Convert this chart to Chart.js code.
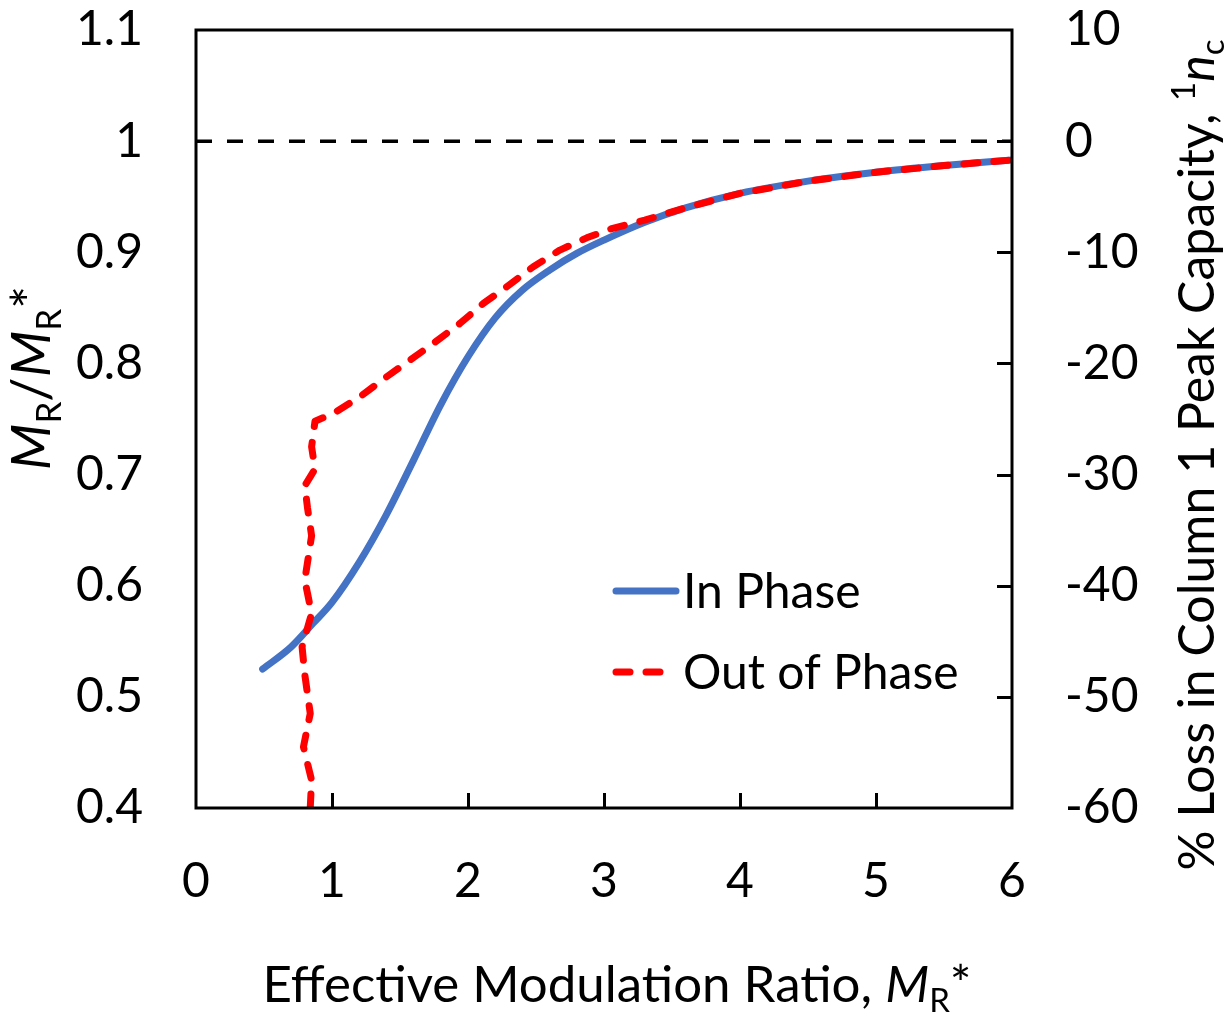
<!DOCTYPE html>
<html>
<head>
<meta charset="utf-8">
<script src="https://cdn.jsdelivr.net/npm/chart.js@4.4.1/dist/chart.umd.min.js"></script>
<style>
  html, body { margin: 0; padding: 0; background: #fff; }
  #wrap { width: 1226px; height: 1022px; }
</style>
</head>
<body>
<div id="wrap"><canvas id="c" width="1226" height="1022"></canvas></div>
<script>
// values
const inPhaseX = [0.49, 0.70, 0.86, 1.0, 1.2, 1.4, 1.6, 1.8, 2.0, 2.2, 2.4, 2.6, 2.8, 3.0, 3.3, 3.6, 4.0, 4.5, 5.0, 5.5, 6.0];
const inPhaseY = [0.525, 0.545, 0.566, 0.585, 0.621, 0.664, 0.713, 0.763, 0.806, 0.841, 0.866, 0.884, 0.899, 0.911, 0.927, 0.940, 0.953, 0.964, 0.972, 0.978, 0.983];

const outPhaseX = [0.84, 0.85, 0.79, 0.84, 0.80, 0.78, 0.85, 0.80, 0.85, 0.82, 0.80, 0.875, 0.85, 0.875, 1.01, 1.206, 1.402, 1.574, 1.745, 1.941, 2.113, 2.285, 2.48, 2.676, 2.873, 3.05, 3.3, 3.6, 4.0, 4.5, 5.0, 5.5, 6.0];
const outPhaseY = [0.40, 0.425, 0.455, 0.485, 0.52, 0.545, 0.575, 0.605, 0.645, 0.67, 0.69, 0.705, 0.725, 0.748, 0.755, 0.770, 0.788, 0.803, 0.818, 0.836, 0.854, 0.869, 0.887, 0.902, 0.913, 0.921, 0.929, 0.940, 0.953, 0.964, 0.972, 0.978, 0.983];

const refX = [0, 6];
const refY = [1, 1];

const xTickVals = [1, 2, 3, 4, 5];          // inward tick marks on the bottom
const rightTickVals = [-50, -40, -30, -20, -10, 0];

const FONT = 'Lato';
const BLUE = '#4472C4';
const RED = '#FF0000';

function pts(xs, ys) {
  return xs.map((x, i) => ({ x: x, y: ys[i] }));
}

function drawRich(ctx, parts, size, cx, cy, rot) {
  ctx.save();
  ctx.translate(cx, cy);
  ctx.rotate(rot);
  ctx.textAlign = 'left';
  ctx.textBaseline = 'alphabetic';
  ctx.fillStyle = '#000';
  const fontOf = p => (p.italic ? 'italic ' : '') + Math.round((p.sub || p.sup) ? size * 0.65 : size) + 'px ' + FONT;
  let total = 0;
  parts.forEach(p => { ctx.font = fontOf(p); p.w = ctx.measureText(p.t).width; total += p.w; });
  let x = -total / 2;
  parts.forEach(p => {
    ctx.font = fontOf(p);
    const dy = p.sub ? size * 0.2 : (p.sup ? -size * 0.38 : 0);
    ctx.fillText(p.t, x, dy);
    x += p.w;
  });
  ctx.restore();
}

const decor = {
  id: 'decor',
  afterDatasetsDraw(chart) {
    const { ctx, chartArea: a, scales } = chart;
    ctx.save();
    ctx.strokeStyle = '#000';
    ctx.lineWidth = 3;
    ctx.setLineDash([]);
    ctx.strokeRect(a.left, a.top, a.right - a.left, a.bottom - a.top);
    ctx.beginPath();
    xTickVals.forEach(v => {
      const px = Math.round(scales.x.getPixelForValue(v)) + 0.5;
      ctx.moveTo(px, a.bottom);
      ctx.lineTo(px, a.bottom - 15);
    });
    rightTickVals.forEach(v => {
      const py = Math.round(scales.y2.getPixelForValue(v)) + 0.5;
      ctx.moveTo(a.right, py);
      ctx.lineTo(a.right - 15, py);
    });
    ctx.stroke();
    ctx.restore();
  },
  afterDraw(chart) {
    const ctx = chart.ctx;
    // legend
    ctx.save();
    ctx.lineCap = 'round';
    ctx.lineWidth = 7;
    ctx.strokeStyle = BLUE;
    ctx.beginPath(); ctx.moveTo(616, 591); ctx.lineTo(676, 591); ctx.stroke();
    ctx.strokeStyle = RED;
    ctx.setLineDash([14, 16]);
    ctx.beginPath(); ctx.moveTo(616, 672); ctx.lineTo(662, 672); ctx.stroke();
    ctx.setLineDash([]);
    ctx.fillStyle = '#000';
    ctx.font = '48px ' + FONT;
    ctx.textAlign = 'left';
    ctx.textBaseline = 'middle';
    ctx.fillText('In Phase', 683, 593);
    ctx.fillText('Out of Phase', 683, 674);
    ctx.restore();

    // axis titles
    drawRich(ctx, [
      { t: 'Effective Modulation Ratio, ' },
      { t: 'M', italic: true },
      { t: 'R', sub: true },
      { t: '*' }
    ], 51, 617, 1002, 0);
    drawRich(ctx, [
      { t: 'M', italic: true },
      { t: 'R', sub: true },
      { t: '/' },
      { t: 'M', italic: true },
      { t: 'R', sub: true },
      { t: '*' }
    ], 54, 50, 378, -Math.PI / 2);
    drawRich(ctx, [
      { t: '% Loss in Column 1 Peak Capacity, ' },
      { t: '1', sup: true },
      { t: 'n', italic: true },
      { t: 'c', sub: true }
    ], 50, 1214, 455, -Math.PI / 2);
  }
};

const tickFont = { family: FONT, size: 48 };

function fitV(w) {
  return s => { s.width = w; s.paddingTop = 0; s.paddingBottom = 0; };
}

new Chart(document.getElementById('c'), {
  type: 'line',
  data: {
    datasets: [
      {
        label: 'ref',
        data: pts(refX, refY),
        borderColor: '#000',
        borderWidth: 3.5,
        borderDash: [16, 15],
        pointRadius: 0,
        tension: 0,
        order: 3
      },
      {
        label: 'In Phase',
        data: pts(inPhaseX, inPhaseY),
        borderColor: BLUE,
        borderWidth: 7,
        borderCapStyle: 'round',
        borderJoinStyle: 'round',
        pointRadius: 0,
        cubicInterpolationMode: 'monotone',
        order: 2
      },
      {
        label: 'Out of Phase',
        data: pts(outPhaseX, outPhaseY),
        borderColor: RED,
        borderWidth: 7,
        borderDash: [14, 16],
        borderCapStyle: 'round',
        borderJoinStyle: 'round',
        pointRadius: 0,
        tension: 0,
        order: 1
      }
    ]
  },
  options: {
    responsive: false,
    animation: false,
    layout: { padding: { top: 30, left: 0, right: 0, bottom: 0 } },
    plugins: { legend: { display: false }, tooltip: { enabled: false } },
    scales: {
      x: {
        type: 'linear',
        min: 0, max: 6,
        grid: { display: false, drawTicks: false },
        border: { display: false },
        ticks: { stepSize: 1, font: tickFont, color: '#000', padding: 45, maxRotation: 0 },
        afterFit(s) { s.height = 214; s.paddingLeft = 0; s.paddingRight = 0; }
      },
      y: {
        position: 'left',
        min: 0.4, max: 1.1,
        grid: { display: false, drawTicks: false },
        border: { display: false },
        ticks: { stepSize: 0.1, font: tickFont, color: '#000', padding: 53,
          callback: v => String(+v.toFixed(1)) },
        afterFit: fitV(196)
      },
      y2: {
        position: 'right',
        min: -60, max: 10,
        grid: { display: false, drawTicks: false },
        border: { display: false },
        ticks: { stepSize: 10, font: tickFont, color: '#000', padding: 53,
          callback: v => String(Math.round(v)) },
        afterFit: fitV(214)
      }
    }
  },
  plugins: [decor]
});
</script>
</body>
</html>
